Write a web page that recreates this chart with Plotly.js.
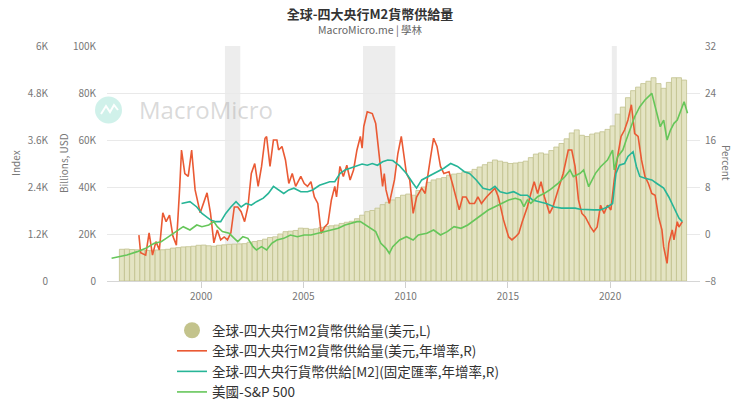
<!DOCTYPE html>
<html><head><meta charset="utf-8">
<script src="https://cdn.plot.ly/plotly-3.0.1.min.js"></script>
<style>html,body{margin:0;padding:0;background:#fff}#chart{width:740px;height:416px}</style>
</head><body><div id="chart"></div>
<script>
const titleText = '全球-四大央行M2貨幣供給量';
const subtitleText = 'MacroMicro.me | 學林';
const seriesNames = [
  '全球-四大央行M2貨幣供給量(美元,L)',
  '全球-四大央行M2貨幣供給量(美元,年增率,R)',
  '全球-四大央行貨幣供給[M2](固定匯率,年增率,R)',
  '美國-S&P 500'
];
const axisTitles = ['Index', 'Billions, USD', 'Percent'];

// Quarterly M2 level (billions USD), starting 1996 Q1
const m2StartYear = 1996;
const m2Level = [
  13500,13600,13400,13300, 13200,13000,13100,13200, 13300,13500,14000,14200,
  14500,14600,14800,15200, 15300,15000,14800,15200, 15400,15600,15700,15800,
  15900,16500,16800,17200, 17800,18500,18800,20000, 21000,21200,21500,22500,
  22400,22000,22200,22800, 23200,23500,23800,24500, 25000,25400,26500,28000,
  29500,30000,31000,32500, 33500,34500,35500,36500, 37000,36500,38500,40000,
  42000,43000,43500,44000, 45000,45500,45800,46500, 46500,47500,48500,49500,
  50500,51500,51000,50500, 50000,50200,50500,51000, 52500,54000,54500,54000,
  55500,57000,58500,60500, 63000,64300,62000,61500, 62500,63000,63500,64500,
  66000,71000,74000,78000, 81000,82500,84000,85000, 86500,84000,82000,84500,
  86500,86500,85500
];

// M2 USD YoY (%)
const m2UsdYoY = [
  ['1996-12',-0.2],
  ['1997-01',-3.2],['1997-04',-3.6],['1997-06',0.2],['1997-08',-3.6],['1997-10',-1.3],['1997-12',-2.7],
  ['1998-02',3.6],['1998-04',2.1],['1998-06',3.2],['1998-08',-0.4],['1998-10',-1.9],['1998-12',8.1],
  ['1999-01',14.3],['1999-03',10.3],['1999-05',9.8],['1999-07',14.3],['1999-09',7.5],['1999-12',3.6],
  ['2000-02',5.5],['2000-04',7.0],['2000-06',3.6],['2000-08',-1.5],['2000-10',0.7],['2000-12',-1.0],
  ['2001-02',-0.5],['2001-04',-1.0],['2001-06',0.2],['2001-08',4.6],['2001-10',4.6],['2001-12',3.8],
  ['2002-02',2.1],['2002-04',4.6],['2002-06',10.3],['2002-08',12.0],['2002-10',8.1],['2002-12',11.5],
  ['2003-02',16.3],['2003-03',16.6],['2003-05',11.5],['2003-07',16.0],['2003-09',16.0],['2003-10',14.3],['2003-12',14.9],
  ['2004-02',12.6],['2004-04',8.6],['2004-06',10.3],['2004-08',8.1],['2004-11',9.8],
  ['2005-01',8.6],['2005-03',8.1],['2005-05',8.9],['2005-07',6.3],['2005-09',5.2],['2005-11',0.1],
  ['2006-01',1.2],['2006-03',1.8],['2006-05',5.8],['2006-07',8.1],['2006-08',6.3],['2006-10',11.5],['2006-12',9.8],
  ['2007-02',11.7],['2007-04',9.2],['2007-06',10.9],['2007-08',14.3],['2007-10',16.6],['2007-11',14.6],['2007-12',18.3],
  ['2008-02',20.8],['2008-05',20.5],['2008-07',18.8],['2008-09',13.7],['2008-11',8.1],['2008-12',10.3],
  ['2009-01',7.5],['2009-03',5.2],['2009-06',9.2],['2009-08',13.7],['2009-10',16.6],
  ['2010-01',10.3],['2010-03',9.2],['2010-05',3.5],['2010-07',6.3],['2010-10',7.8],['2010-12',6.9],
  ['2011-03',12.6],['2011-05',16.3],['2011-07',14.9],['2011-09',11.5],['2011-11',10.3],
  ['2012-02',10.6],['2012-04',8.6],['2012-06',6.3],['2012-08',4.1],['2012-10',6.3],['2012-12',6.3],
  ['2013-02',5.2],['2013-05',5.2],['2013-07',6.3],['2013-09',5.2],['2013-12',6.3],
  ['2014-03',7.2],['2014-05',7.8],['2014-07',6.3],['2014-10',2.4],
  ['2015-01',-0.5],['2015-03',-1.0],['2015-05',-0.5],['2015-07',0.1],['2015-09',2.1],['2015-12',4.6],
  ['2016-02',6.9],['2016-04',8.9],['2016-06',6.9],['2016-08',8.9],['2016-10',6.3],
  ['2017-01',3.5],['2017-03',4.6],['2017-06',7.5],['2017-09',10.3],['2017-12',14.3],
  ['2018-02',14.3],['2018-04',11.5],['2018-06',5.8],['2018-08',3.5],['2018-10',2.9],
  ['2019-01',1.2],['2019-03',0.4],['2019-05',1.2],['2019-07',4.9],['2019-09',3.5],['2019-11',4.9],
  ['2020-01',4.1],['2020-03',9.2],['2020-05',13.2],['2020-07',16.6],['2020-09',17.7],['2020-11',19.4],
  ['2021-01',22.0],['2021-03',17.1],['2021-05',16.6],['2021-07',12.6],['2021-09',9.8],['2021-11',8.6],
  ['2022-01',6.9],['2022-03',6.6],['2022-05',2.9],['2022-07',0.7],['2022-08',-2.2],['2022-10',-5.0],['2022-11',-1.6],
  ['2023-01',0.7],['2023-02',-1.0],['2023-04',2.1],['2023-05',1.2],['2023-07',2.1]
];

// M2 fixed-FX YoY (%)
const m2FixedYoY = [
  ['1999-01',5.2],['1999-06',5.5],['1999-10',4.6],
  ['2000-01',3.5],['2000-06',2.4],['2000-09',2.1],['2000-12',2.1],
  ['2001-03',3.5],['2001-06',4.6],['2001-09',5.5],['2001-12',4.6],
  ['2002-03',5.2],['2002-06',4.9],['2002-09',5.5],
  ['2003-01',6.1],['2003-04',6.9],['2003-07',8.1],['2003-10',7.5],
  ['2004-01',6.9],['2004-04',7.5],['2004-07',7.8],['2004-11',7.2],
  ['2005-03',7.2],['2005-06',7.5],['2005-10',8.3],
  ['2006-01',8.6],['2006-04',8.9],['2006-07',8.9],['2006-10',10.3],
  ['2007-01',10.9],['2007-04',11.2],['2007-08',11.7],['2007-11',11.9],
  ['2008-02',11.7],['2008-05',12.0],['2008-08',11.7],['2008-11',12.3],
  ['2009-02',12.6],['2009-05',12.5],['2009-09',11.6],
  ['2010-01',10.3],['2010-05',8.6],['2010-07',7.8],['2010-10',9.2],
  ['2011-05',10.3],['2011-11',11.2],
  ['2012-03',12.0],['2012-07',11.5],['2012-11',10.6],
  ['2013-02',10.3],['2013-06',9.2],['2013-10',7.8],
  ['2014-02',7.5],['2014-05',8.1],['2014-08',7.2],['2014-12',6.9],
  ['2015-04',7.2],['2015-08',6.6],['2015-12',6.6],
  ['2016-03',5.8],['2016-07',5.5],['2016-11',5.2],
  ['2017-04',4.6],['2017-08',4.4],['2017-12',4.4],
  ['2018-04',4.4],['2018-07',4.2],['2018-11',4.1],
  ['2019-03',4.1],['2019-07',4.1],['2019-11',4.6],
  ['2020-02',5.2],['2020-04',10.3],['2020-06',11.7],['2020-09',12.0],['2020-11',13.2],
  ['2021-02',14.0],['2021-04',11.5],['2021-06',9.8],['2021-09',9.5],
  ['2022-01',9.2],['2022-04',8.6],['2022-08',7.8],['2022-11',6.3],
  ['2023-02',4.4],['2023-05',2.7],['2023-07',2.1]
];

// S&P 500 index
const sp500 = [
  ['1995-08',580],['1996-05',664],['1996-11',750],
  ['1997-04',834],['1997-09',962],
  ['1998-01',1004],['1998-04',1089],['1998-07',1174],['1998-10',1250],
  ['1999-02',1387],['1999-06',1302],['1999-10',1430],
  ['2000-01',1387],['2000-05',1430],['2000-08',1515],['2000-10',1387],
  ['2001-01',1260],['2001-05',1217],['2001-08',1089],['2001-10',1004],
  ['2002-01',1131],['2002-04',1089],['2002-07',877],['2002-09',792],['2002-12',877],
  ['2003-03',792],['2003-06',962],['2003-09',1047],
  ['2004-01',1089],['2004-05',1174],['2004-09',1131],
  ['2005-01',1174],['2005-05',1174],['2005-09',1217],
  ['2006-01',1260],['2006-05',1302],['2006-09',1345],
  ['2007-01',1430],['2007-04',1473],['2007-08',1515],['2007-10',1515],
  ['2008-01',1430],['2008-04',1345],['2008-07',1260],['2008-10',962],
  ['2009-01',834],['2009-03',707],['2009-05',877],['2009-09',1047],
  ['2010-01',1131],['2010-05',1047],['2010-08',1174],
  ['2011-01',1217],['2011-05',1302],['2011-09',1174],
  ['2012-01',1260],['2012-05',1387],['2012-09',1345],
  ['2013-01',1430],['2013-05',1557],['2013-09',1685],
  ['2014-01',1813],['2014-05',1898],['2014-09',1983],
  ['2015-01',2068],['2015-05',2111],['2015-08',2068],['2015-10',1898],['2015-12',2068],
  ['2016-02',1983],['2016-06',2153],['2016-10',2239],
  ['2017-01',2323],['2017-06',2494],['2017-10',2663],
  ['2018-01',2834],['2018-03',2663],['2018-07',2749],['2018-09',2834],['2018-12',2408],
  ['2019-04',2749],['2019-07',2918],['2019-11',3089],
  ['2020-02',3344],['2020-03',2834],['2020-05',3174],['2020-08',3344],['2020-10',3600],
  ['2021-01',3940],['2021-03',4195],['2021-06',4450],['2021-09',4621],
  ['2022-01',4792],['2022-03',4450],['2022-06',3940],['2022-08',4110],['2022-10',3600],['2022-12',3855],
  ['2023-02',4026],['2023-04',4110],['2023-06',4366],['2023-08',4578],['2023-10',4281]
];

const recessions = [['2001-03-01','2001-11-30'],['2007-12-01','2009-06-30'],['2020-02-01','2020-04-30']];

const leftTickVals = [0,20000,40000,60000,80000,100000];
const leftTickText = ['0','20K','40K','60K','80K','100K'];
const indexTickVals = [0,1200,2400,3600,4800,6000];
const indexTickText = ['0','1.2K','2.4K','3.6K','4.8K','6K'];
const pctTickVals = [-8,0,8,16,24,32];

// ---- build ----
const quarterDates = m2Level.map((_, i) => {
  const y = m2StartYear + Math.floor(i / 4);
  const m = 3 * (i % 4) + 2;
  return y + '-' + String(m).padStart(2, '0') + '-15';
});
const xs = a => a.map(p => p[0] + '-15');
const ys = a => a.map(p => p[1]);

const FONT = '"Noto Sans CJK TC", "Noto Sans", sans-serif';
const L = 10, R = 40, T = 46, B = 135, W = 740, H = 416;
const pw = W - L - R, ph = H - T - B;
const px = x => (x - L) / pw;
const py = y => (H - B - y) / ph;

const traces = [
  {type:'bar', x: quarterDates, y: m2Level, name: seriesNames[0], yaxis:'y', showlegend:false,
   legendgroup:'m2', marker:{color:'#e4e4c3', line:{color:'#c2c28e', width:0.8}}, hoverinfo:'skip'},
  {type:'scatter', mode:'markers', x:[null], y:[null], name: seriesNames[0], legendgroup:'m2',
   marker:{symbol:'circle', size:16, color:'#c3c38c'}},
  {type:'scatter', mode:'lines', x: xs(m2UsdYoY), y: ys(m2UsdYoY), name: seriesNames[1], yaxis:'y2',
   line:{color:'#ea5a34', width:1.6}},
  {type:'scatter', mode:'lines', x: xs(m2FixedYoY), y: ys(m2FixedYoY), name: seriesNames[2], yaxis:'y2',
   line:{color:'#27b597', width:1.6}},
  {type:'scatter', mode:'lines', x: xs(sp500), y: ys(sp500), name: seriesNames[3], yaxis:'y3',
   line:{color:'#66c65a', width:1.6}}
];

const shapes = recessions.map(r => ({type:'rect', xref:'x', yref:'paper', x0:r[0], x1:r[1], y0:0, y1:1,
  fillcolor:'#ededed', line:{width:0}, layer:'below'}));
// watermark logo
shapes.push({type:'circle', xref:'paper', yref:'paper', x0:px(95), x1:px(122), y0:py(123.5), y1:py(96.5),
  fillcolor:'rgba(150,225,208,0.45)', line:{width:0}, layer:'above'});
shapes.push({type:'path', xref:'paper', yref:'paper',
  path:`M ${px(101)},${py(114)} L ${px(106)},${py(106)} L ${px(110)},${py(112)} L ${px(114)},${py(105)} L ${px(118)},${py(110)}`,
  line:{color:'rgba(255,255,255,0.95)', width:2}, layer:'above'});

const axTitleFont = {family: FONT, size: 10, color:'#777'};
const ann = (text, x, y, extra) => Object.assign({text, xref:'paper', yref:'paper', x: px(x), y: py(y),
  xanchor:'center', yanchor:'middle', showarrow:false}, extra);
const annotations = [
  ann(subtitleText, 370, 30, {font:{family: FONT, size: 10.5, color:'#666'}}),
  ann('MacroMicro', 137, 110, {xanchor:'left', font:{family:'"Open Sans", sans-serif', size: 24, color:'rgba(165,165,165,0.42)'}}),
  ann(axisTitles[0], 15, 163, {textangle:-90, font: axTitleFont}),
  ann(axisTitles[1], 63, 163, {textangle:-90, font: axTitleFont}),
  ann(axisTitles[2], 727, 163, {textangle:90, font: axTitleFont})
];

const tickFont = {family: FONT, size: 10, color:'#777'};
const layout = {
  width: W, height: H,
  margin: {l: L, r: R, t: T, b: B, autoexpand: false},
  paper_bgcolor:'#fff', plot_bgcolor:'#fff',
  title: {text: titleText, x: 0.5, xref:'container', xanchor:'center', y: 1 - 14/H, yref:'container', yanchor:'middle',
          font:{family: FONT, size: 13, color:'#333', weight: 'bold'}},
  showlegend: true,
  legend: {orientation:'v', x: px(172), xanchor:'left', y: py(315), yanchor:'top',
           font:{family: FONT, size: 13.5, color:'#333'}, bgcolor:'rgba(0,0,0,0)', tracegroupgap: 0, itemwidth: 30},
  bargap: 0,
  xaxis: {type:'date', domain:[px(107), 1], range:['1995-05-25','2024-05-25'],
          tick0:'2000-01-01', dtick:'M60', tickformat:'%Y', ticks:'outside', ticklen:6, tickcolor:'#d0d0d0',
          showline:true, linecolor:'#d6d6d6', showgrid:false, zeroline:false, tickfont: tickFont},
  yaxis: {range:[0,100000], tickvals: leftTickVals, ticktext: leftTickText, showgrid:true, gridcolor:'#e9e9e9',
          zeroline:false, showline:false, ticks:'', ticklabelstandoff: 10, tickfont: tickFont},
  yaxis2: {overlaying:'y', side:'right', anchor:'x', range:[-8,32], tickvals: pctTickVals, showgrid:false,
           zeroline:false, showline:false, ticks:'', ticklabelstandoff: 4, tickfont: tickFont},
  yaxis3: {overlaying:'y', side:'left', anchor:'free', position: px(48), range:[0,6000], tickvals: indexTickVals,
           ticktext: indexTickText, showgrid:false, zeroline:false, showline:false, ticks:'', tickfont: tickFont},
  shapes: shapes,
  annotations: annotations
};

Plotly.newPlot('chart', traces, layout, {displayModeBar:false, staticPlot:true});
</script>
</body></html>
